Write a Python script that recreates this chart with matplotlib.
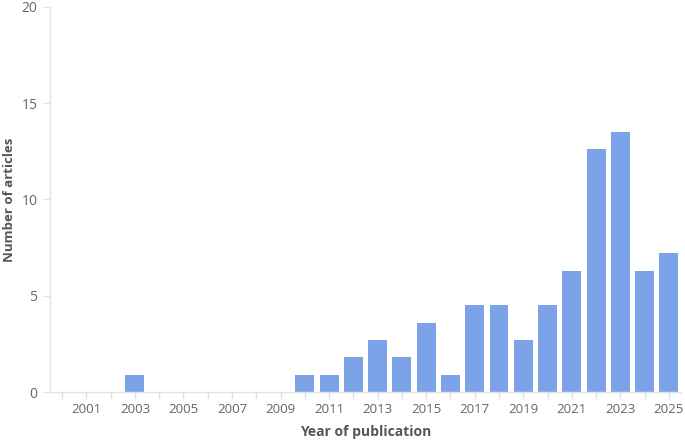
import matplotlib
matplotlib.use("Agg")
import matplotlib.pyplot as plt

years = list(range(2000, 2026))
values = [0, 0, 0, 0.9, 0, 0, 0, 0, 0, 0,
          0.9, 0.9, 1.8, 2.7, 1.8, 3.6, 0.9, 4.5, 4.5, 2.7,
          4.5, 6.3, 12.6, 13.5, 6.3, 7.2]
y_ticks = [0, 5, 10, 15, 20]
x_labels = [str(y) if y % 2 == 1 else "" for y in years]

plt.rcParams['font.family'] = ['Open Sans', 'DejaVu Sans']

fig = plt.figure(figsize=(6.85, 4.44), dpi=100)
ax = fig.add_axes([50/685, 1-392/444, 631/685, 385/444])

pos = list(range(len(years)))
ax.bar(pos, values, width=0.78, color="#7ca3e8", zorder=2)

ax.set_xlim(-0.5, len(years) - 0.5)
ax.set_ylim(0, 20)
ax.set_yticks(y_ticks)
ax.set_xticks(pos)
ax.set_xticklabels(x_labels)

for s in ["top", "right"]:
    ax.spines[s].set_visible(False)
for s in ["left", "bottom"]:
    ax.spines[s].set_color("#e4e4e4")
    ax.spines[s].set_linewidth(1)

ax.tick_params(axis="both", colors="#e0e0e0", length=5, width=1, labelcolor="#666666")
ax.tick_params(axis="y", labelsize=10, pad=4)
ax.tick_params(axis="x", labelsize=9.5, pad=3)

ax.set_ylabel("Number of articles", fontsize=9.5, fontweight="bold", color="#555555")
ax.yaxis.set_label_coords(-0.054, 0.5)
ax.set_xlabel("Year of publication", fontsize=10, fontweight="bold", color="#555555")
ax.xaxis.set_label_coords(0.5, -0.085)

fig.savefig("out.png", dpi=100, facecolor="white")
